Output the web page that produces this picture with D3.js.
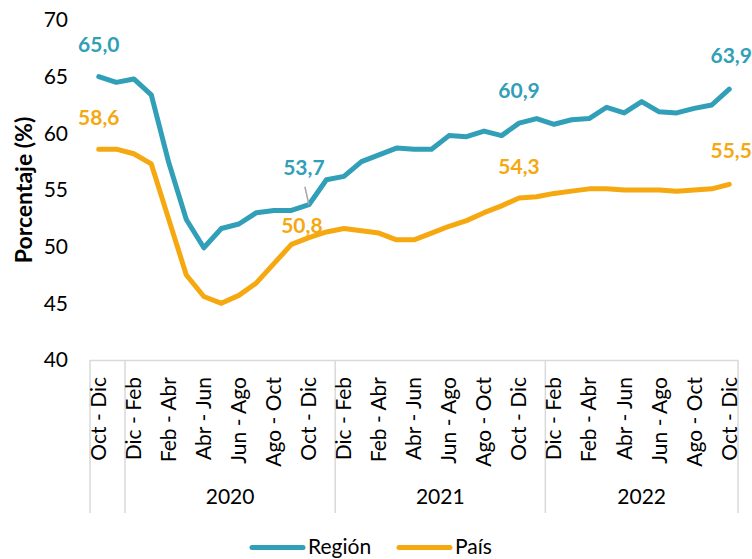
<!DOCTYPE html>
<html><head><meta charset="utf-8">
<script src="https://cdn.jsdelivr.net/npm/d3@7"></script>
<style>
html,body{margin:0;padding:0;background:#fff;}
svg{display:block;font-family:Lato,"Open Sans",sans-serif;}
</style></head>
<body><svg id="c" width="752" height="559"></svg>
<script>
const categories = ["Oct - Dic","Nov - Ene","Dic - Feb","Ene - Mar","Feb - Abr","Mar - May","Abr - Jun","May - Jul","Jun - Ago","Jul - Sep","Ago - Oct","Sep - Nov","Oct - Dic","Nov - Ene",
"Dic - Feb","Ene - Mar","Feb - Abr","Mar - May","Abr - Jun","May - Jul","Jun - Ago","Jul - Sep","Ago - Oct","Sep - Nov","Oct - Dic","Nov - Ene",
"Dic - Feb","Ene - Mar","Feb - Abr","Mar - May","Abr - Jun","May - Jul","Jun - Ago","Jul - Sep","Ago - Oct","Sep - Nov","Oct - Dic"];
const years = [
  {label:"", start:0, end:1},
  {label:"2020", start:2, end:13},
  {label:"2021", start:14, end:25},
  {label:"2022", start:26, end:36}
];
const region = [65.0,64.5,64.8,63.4,57.4,52.4,49.9,51.6,52.0,53.0,53.2,53.2,53.7,55.9,
56.2,57.5,58.1,58.7,58.6,58.6,59.8,59.7,60.2,59.8,60.9,61.3,
60.8,61.2,61.3,62.3,61.8,62.8,61.9,61.8,62.2,62.5,63.9];
const pais = [58.6,58.6,58.2,57.3,52.4,47.5,45.6,45.0,45.7,46.8,48.5,50.2,50.8,51.3,
51.6,51.4,51.2,50.6,50.6,51.2,51.8,52.3,53.0,53.6,54.3,54.4,
54.7,54.9,55.1,55.1,55.0,55.0,55.0,54.9,55.0,55.1,55.5];
const yTicks = [40,45,50,55,60,65,70];
const seriesNames = ["Región","País"];
const labeled = [0,12,24,36];

const colors = {"Región":"#319fb7","País":"#f5a810"};
const svg = d3.select("#c");
const pL = 90, pR = 738, pT = 20, pB = 360;
const x = d3.scaleBand().domain(d3.range(categories.length)).range([pL,pR]);
const cx = i => x(i) + x.bandwidth()/2;
const y = d3.scaleLinear().domain([40,70]).range([pB,pT]);

// y axis labels
const yAxis = d3.axisLeft(y).tickValues(yTicks).tickSize(0).tickPadding(0).tickFormat(d3.format("d"));
const ga = svg.append("g").attr("transform","translate(68,0)").call(yAxis);
ga.select(".domain").remove();
ga.selectAll("text").attr("font-size",21).attr("fill","#000").attr("font-family","Lato");

svg.append("text").attr("transform",`translate(32,${(pT+pB)/2}) rotate(-90)`)
  .attr("text-anchor","middle").attr("font-weight","bold").attr("font-size",23).attr("fill","#000")
  .text("Porcentaje (%)");

// category axis
const axc = "#d9d9d9";
svg.append("line").attr("x1",pL).attr("x2",pR).attr("y1",pB+0.5).attr("y2",pB+0.5).attr("stroke",axc).attr("stroke-width",1.5);
const seps = [x(years[0].start)].concat(years.map(g => x(g.end)+x.bandwidth()));
svg.selectAll("line.sep").data(seps).enter().append("line").attr("class","sep")
  .attr("x1",d=>d).attr("x2",d=>d).attr("y1",pB).attr("y2",513).attr("stroke",axc).attr("stroke-width",1.5);

svg.selectAll("text.cat").data(categories.map((c,i)=>({c,i})).filter(d=>d.i%2===0)).enter().append("text").attr("class","cat")
  .attr("transform",d=>`translate(${cx(d.i)},${pB+17}) rotate(-90)`)
  .attr("text-anchor","end").attr("dy","0.35em").attr("font-size",21).attr("fill","#000")
  .text(d=>d.c);

svg.selectAll("text.yr").data(years.filter(g=>g.label)).enter().append("text").attr("class","yr")
  .attr("x",g=>(x(g.start)+x(g.end)+x.bandwidth())/2).attr("y",504)
  .attr("text-anchor","middle").attr("font-size",21).attr("fill","#000").text(g=>g.label);

// lines
const line = d3.line().x((d,i)=>cx(i)).y(d=>y(d));
[["Región",region],["País",pais]].forEach(([n,vals])=>{
  svg.append("path").datum(vals).attr("d",line).attr("fill","none")
    .attr("stroke",colors[n]).attr("stroke-width",5).attr("stroke-linejoin","round").attr("stroke-linecap","round");
});

// data labels
const fmt = v => d3.format(".1f")(v).replace(".",",");
const lblOff = {
  "Región": {0:[0,-25],12:[-5,-30],24:[0,-25],36:[2,-26]},
  "País": {0:[0,-24],12:[-7,-5],24:[0,-24],36:[2,-26]}
};
[["Región",region],["País",pais]].forEach(([n,vals])=>{
  labeled.forEach(i=>{
    const o = lblOff[n][i];
    svg.append("text").attr("x",cx(i)+o[0]).attr("y",y(vals[i])+o[1])
      .attr("text-anchor","middle").attr("font-weight","bold").attr("font-size",21)
      .attr("fill",colors[n]).text(fmt(vals[i]));
  });
});
// leader line for 53,7
svg.append("line").attr("x1",cx(12)-4).attr("y1",y(region[12])-18).attr("x2",cx(12)).attr("y2",y(region[12]))
  .attr("stroke","#a6a6a6").attr("stroke-width",1.5);

// legend
const lg = svg.append("g");
const items = [{n:"Región",x:250},{n:"País",x:397}];
items.forEach(it=>{
  lg.append("line").attr("x1",it.x+2).attr("x2",it.x+53).attr("y1",547.5).attr("y2",547.5)
    .attr("stroke",colors[it.n]).attr("stroke-width",5).attr("stroke-linecap","round");
  lg.append("text").attr("x",it.x+58).attr("y",554).attr("font-size",21).attr("fill","#000").text(it.n);
});
</script></body></html>
